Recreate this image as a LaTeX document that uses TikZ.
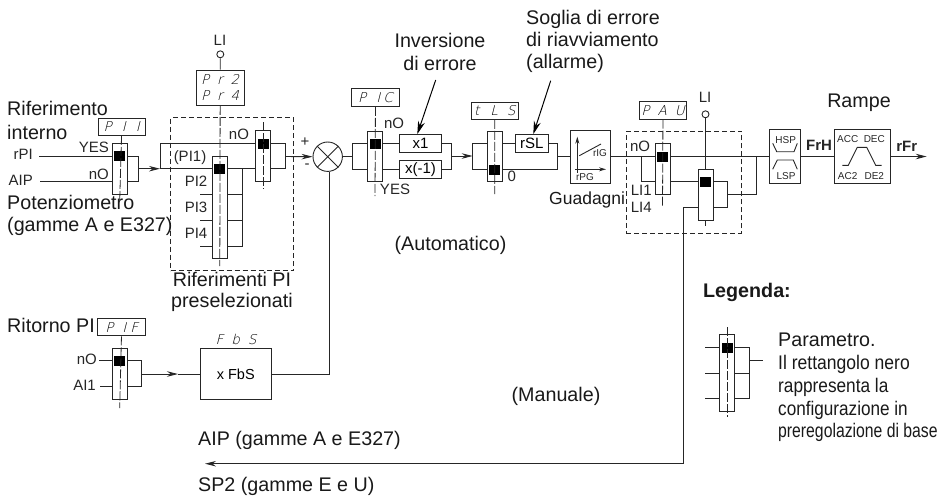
\documentclass[tikz,border=0pt]{standalone}
\usepackage{fontspec}
\setmainfont{Liberation Sans}
\newfontfamily\segfont[FakeSlant=0.25]{DejaVu Sans ExtraLight}
\usetikzlibrary{arrows.meta,calc}
\definecolor{ink}{gray}{0.15}
\newcommand{\fs}[1]{\fontsize{#1}{#1}\selectfont}
\newcommand{\Sel}[5]{%
  \node[sel,minimum height={(#4)-(#3)}] (#1) at (#2,{((#3)+(#4))/2}) {};
  \node[blk] (#1k) at (#2,#5) {};
  \coordinate (#1in) at (#2,#3);}
\tikzset{
  wire/.style={draw=ink,line width=0.9pt},
  ctr/.style={draw=ink,line width=0.8pt,dash pattern=on 9pt off 2pt},
  sel/.style={draw=ink,line width=0.9pt,minimum width=15pt,inner sep=0pt,rectangle},
  blk/.style={fill=black,draw=none,minimum width=11pt,minimum height=10pt,inner sep=0pt},
  box/.style={draw=ink,line width=0.9pt,inner sep=0pt,rectangle,align=center},
  seg/.style={font=\fs{13.5}\segfont,text=black},
  param/.style={box,seg,minimum width=47.6pt,minimum height=17.4pt},
  zone/.style={draw=ink,line width=0.8pt,dash pattern=on 5pt off 3pt},
  lab/.style={inner sep=0pt,text=ink,font=\fs{15},text height=0.72em,text depth=0pt},
  big/.style={inner sep=0pt,text=black!90,font=\fs{19.7},text height=0.72em,text depth=0pt},
  tiny/.style={inner sep=0pt,text=ink,font=\fs{10},text height=0.72em,text depth=0pt},
  bold/.style={inner sep=0pt,text=ink,font=\fs{15}\bfseries,text height=0.72em,text depth=0pt},
  tip/.style={-{Stealth[length=11pt,width=5.5pt]}},
  bigtip/.style={-{Stealth[length=13pt,width=7pt]}},
  pin/.style={circle,draw=ink,line width=0.9pt,minimum size=7pt,inner sep=0pt},
}
\begin{document}
\begin{tikzpicture}[x=1pt,y=-1pt]
\useasboundingbox (0,0) rectangle (939,496);

% dashed zones
\node[zone,rectangle,inner sep=0pt,minimum width=123pt,minimum height=153pt] (zone1) at (232.2,194.2) {};
\node[zone,rectangle,inner sep=0pt,minimum width=115pt,minimum height=102.3pt] (zone2) at (683.8,182.2) {};

% ---------- first selector
\node[param] (pii) at (121.8,126.8) {P\hspace{10pt}I\hspace{10pt}I};
\Sel{s1}{119.7}{143.3}{194}{156}
\coordinate (s1end) at (119.7,201);
\draw[ctr] (pii) -- (s1end);
\node[lab,anchor=east] (trpi) at (33,156) {rPI};
\node[lab,anchor=east] (taip) at (33,182) {AIP};
\coordinate (rpi) at (39,156);
\coordinate (aip) at (40,181.7);
\draw[wire] (rpi) -- (rpi -| s1.west);
\draw[wire] (aip) -- (aip -| s1.west);
\coordinate (c1a) at (138,156);
\coordinate (c1b) at (138,181.7);
\coordinate (c1m) at (138,168.7);
\draw[wire] (c1a -| s1.east) -- (c1a) -- (c1b) -- (c1b -| s1.east);
\coordinate (a1t) at (160,168.7);
\coordinate (j1) at (160.7,168.7);
\draw[wire,tip] (c1m) -- (a1t);
\node[lab,anchor=south east,font=\fs{15}] (tyes1) at (109,153) {YES};
\node[lab,anchor=south east] (tno1) at (109,179.5) {nO};

% ---------- PI selector
\node[box,seg,minimum width=47.7pt,minimum height=35.3pt] (pr) at (220.2,87.7) {P\hspace{8pt}r\hspace{8pt}2\\[2pt]P\hspace{8pt}r\hspace{8pt}4};
\node[pin] (li1) at (220.3,54.3) {};
\node[lab,anchor=south] (tli1) at (220,46) {LI};
\Sel{s2}{219.8}{156}{258.3}{168.7}
\coordinate (s2end) at (219.8,266);
\draw[wire] (li1) -- (pr);
\draw[ctr] (pr) -- (s2end);
\coordinate (pi2) at (200,194.3);
\coordinate (pi3) at (200,220.3);
\coordinate (pi4) at (200,246.3);
\draw[wire] (pi2) -- (pi2 -| s2.west);
\draw[wire] (pi3) -- (pi3 -| s2.west);
\draw[wire] (pi4) -- (pi4 -| s2.west);
\coordinate (b2) at (242.3,168.7);
\coordinate (b2e) at (242.3,246.3);
\draw[wire] (b2) -- (b2e) -- (s2.east |- b2e);
\draw[wire] (s2.east |- pi2) -- (pi2 -| b2);
\draw[wire] (s2.east |- pi3) -- (pi3 -| b2);
\draw[wire] (j1) -- (j1 -| s2.west);
\node[lab,anchor=center] (tpi1) at (190,158) {(PI1)};
\node[lab,anchor=east] (tpi2) at (207.5,183) {PI2};
\node[lab,anchor=east] (tpi3) at (207.5,209) {PI3};
\node[lab,anchor=east] (tpi4) at (207.5,235) {PI4};

% ---------- third selector
\Sel{s3}{263.2}{130.3}{181.3}{144}
\coordinate (s3a) at (263.2,122);
\coordinate (s3b) at (263.2,189);
\draw[ctr] (s3a) -- (s3b);
\coordinate (j1up) at (160.7,143.3);
\draw[wire] (j1) -- (j1up) -- (j1up -| s3.west);
\draw[wire] (j1 -| s2.east) -- (j1 -| s3.west);
\coordinate (c3a) at (285,143.3);
\coordinate (c3b) at (285,168.7);
\coordinate (c3m) at (285,156.5);
\draw[wire] (c3a -| s3.east) -- (c3a) -- (c3b) -- (c3b -| s3.east);
\node[lab,anchor=center] (tno3) at (239,136) {nO};
\node[lab,anchor=center] (tplus) at (305,143) {+};
\node[lab,anchor=center] (tminus) at (307,165) {-};

% ---------- summing point
\node[circle,draw=ink,line width=0.9pt,minimum size=29.4pt,inner sep=0pt] (sum) at (327.7,156.7) {};
\draw[wire] (sum.45) -- (sum.225);
\draw[wire] (sum.135) -- (sum.315);
\draw[wire,tip] (c3m) -- (sum.west);

% ---------- PIC
\node[param] (pic) at (375.5,97.6) {P\hspace{10pt}I\hspace{3pt}C};
\Sel{s5}{375}{131}{181.3}{144}
\coordinate (s5end) at (375,196);
\draw[ctr] (pic) -- (s5end);
\coordinate (in5) at (352.7,156.7);
\coordinate (in5a) at (352.7,143.3);
\coordinate (in5b) at (352.7,169.7);
\draw[wire] (sum) -- (in5);
\draw[wire] (s5.west |- in5a) -- (in5a) -- (in5b) -- (s5.west |- in5b);
\node[box,minimum width=42.4pt,minimum height=17.4pt,font=\fs{15}] (x1) at (420.5,143.3) {x1};
\node[box,minimum width=42.4pt,minimum height=17.4pt,font=\fs{15}] (xm) at (420.5,169.4) {x(-1)};
\draw[wire] (s5.east |- x1) -- (x1);
\draw[wire] (s5.east |- xm) -- (xm);
\coordinate (o5a) at (451,143.3);
\coordinate (o5b) at (451,169.4);
\coordinate (o5m) at (451,156);
\draw[wire] (x1) -- (o5a) -- (o5b) -- (xm);
\node[lab,anchor=center] (tno5) at (394,125) {nO};
\node[lab,anchor=center] (tyes5) at (395,191) {YES};
\node[big,anchor=center] (tinv1) at (440,44) {Inversione};
\node[big,anchor=center] (tinv2) at (440,67) {di errore};
\coordinate (ainv) at (435.7,80);
\draw[draw=black,line width=1pt,bigtip] (ainv) -- (x1.north -| 417.3,0);

% ---------- tLS
\node[param] (tls) at (494.8,110.7) {t\hspace{11pt}L\hspace{9pt}S};
\Sel{s6}{494.7}{131}{181.3}{170}
\coordinate (s6end) at (494.7,194);
\draw[ctr] (tls) -- (s6end);
\coordinate (in6) at (472.7,156);
\coordinate (in6a) at (472.7,143.3);
\coordinate (in6b) at (472.7,169.7);
\draw[wire,tip] (o5m) -- (in6);
\draw[wire] (s6.west |- in6a) -- (in6a) -- (in6b) -- (s6.west |- in6b);
\node[box,minimum width=33pt,minimum height=17.4pt,font=\fs{15}] (rsl) at (531.8,143.3) {rSL};
\draw[wire] (s6.east |- rsl) -- (rsl);
\coordinate (o6a) at (557.3,143.3);
\coordinate (o6b) at (557.3,169.7);
\coordinate (o6m) at (557.3,156.7);
\draw[wire] (rsl) -- (o6a) -- (o6b) -- (s6.east |- o6b);
\node[lab,anchor=center] (tzero) at (511.7,178) {0};
\node[big,anchor=west] (ts1) at (526,20.5) {Soglia di errore};
\node[big,anchor=west] (ts2) at (526,42.5) {di riavviamento};
\node[big,anchor=west] (ts3) at (526,65) {(allarme)};
\coordinate (arsl) at (550.7,80.7);
\draw[draw=black,line width=1pt,bigtip] (arsl) -- (rsl.north -| 533.3,0);

% ---------- gains
\node[box,minimum width=40pt,minimum height=53.7pt] (rpg) at (590.7,156.8) {};
\coordinate (g0) at (577.3,173);
\coordinate (g1) at (577.3,136.7);
\coordinate (g2) at (575,169.3);
\coordinate (g3) at (606,169.3);
\coordinate (g4) at (579.3,155.7);
\coordinate (g5) at (601,144);
\draw[wire,-{Stealth[length=7pt,width=4pt]}] (g0) -- (g1);
\draw[wire,-{Stealth[length=7pt,width=4pt]}] (g2) -- (g3);
\draw[wire] (g4) -- (g5);
\node[tiny,anchor=center] (trig) at (600,152.7) {rIG};
\node[tiny,anchor=center] (trpg) at (585,176.7) {rPG};
\draw[wire] (o6m) -- (o6m -| rpg.west);
\node[big,anchor=west,font=\fs{17.5}] (tgua) at (549,200.5) {Guadagni};

% ---------- PAU
\node[param] (pau) at (663,110.5) {P\hspace{8pt}A\hspace{8pt}U};
\Sel{s7}{662.5}{143.7}{194.3}{157}
\coordinate (s7end) at (662.5,207);
\draw[ctr] (pau) -- (s7end);
\coordinate (m0) at (rpg.east |- 0,156.7);
\coordinate (mb) at (641.7,156.7);
\coordinate (mc) at (641.7,181.7);
\draw[wire] (m0) -- (m0 -| s7.west);
\draw[wire] (mb) -- (mc) -- (mc -| s7.west);
\node[lab,anchor=center] (tno7) at (640,148) {nO};
\node[lab,anchor=west] (tl1) at (630.7,192) {LI1};
\node[lab,anchor=west] (tl4) at (630.7,209) {LI4};

\Sel{s8}{705.5}{169.3}{220.3}{182}
\node[pin] (li2) at (705.5,114.3) {};
\node[lab,anchor=center] (tli2) at (705,99) {LI};
\coordinate (s8end) at (705.5,226);
\draw[wire] (li2) -- (s8);
\draw[ctr] (s8) -- (s8end);
\draw[wire] (s7.east |- mc) -- (s8.west |- mc);
\coordinate (o8a) at (727.3,181.7);
\coordinate (o8b) at (727.3,207.7);
\coordinate (o8m) at (727.3,194.7);
\coordinate (o8n) at (756,194.7);
\coordinate (o8u) at (756,156.7);
\draw[wire] (s8.east |- o8a) -- (o8a) -- (o8b) -- (s8.east |- o8b);
\draw[wire] (o8m) -- (o8n) -- (o8u);

% ---------- limits & ramp
\node[box,minimum width=30.6pt,minimum height=54.4pt] (hsp) at (785,156.5) {};
\draw[wire] (s7.east |- o8u) -- (hsp.west |- o8u);
\coordinate (h1) at (772.7,143.3);
\coordinate (h2) at (776.7,151.7);
\coordinate (h3) at (794,151.7);
\coordinate (h4) at (797.3,143.3);
\coordinate (l1) at (772.7,169.3);
\coordinate (l2) at (777.3,160);
\coordinate (l3) at (793.3,160);
\coordinate (l4) at (797.3,169.3);
\draw[wire] (h1) -- (h2) -- (h3) -- (h4);
\draw[wire] (l1) -- (l2) -- (l3) -- (l4);
\node[tiny,anchor=center] (thsp) at (785.7,140) {HSP};
\node[tiny,anchor=center] (tlsp) at (786,175.7) {LSP};
\node[box,minimum width=55.3pt,minimum height=54.4pt] (ramp) at (862.3,156.5) {};
\draw[wire] (hsp) -- (ramp);
\node[bold,anchor=center] (tfrh) at (819,147.3) {FrH};
\coordinate (r1) at (842.3,165.3);
\coordinate (r2) at (848.3,165.3);
\coordinate (r3) at (857.3,147.3);
\coordinate (r4) at (866.7,147.3);
\coordinate (r5) at (875.7,165.3);
\coordinate (r6) at (881.7,165.3);
\draw[wire] (r1) -- (r2) -- (r3) -- (r4) -- (r5) -- (r6);
\node[tiny,anchor=center] (tacc) at (847.7,139) {ACC};
\node[tiny,anchor=center] (tdec) at (874.3,139) {DEC};
\node[tiny,anchor=center] (tac2) at (847.7,175.7) {AC2};
\node[tiny,anchor=center] (tde2) at (874.3,175.7) {DE2};
\coordinate (out) at (926.7,156.5);
\draw[wire,tip] (ramp) -- (out);
\node[bold,anchor=center] (trfr) at (906.7,148) {rFr};
\node[big,anchor=center] (trampe) at (859,104) {Rampe};

% ---------- feedback
\node[param] (pif) at (121.7,327.2) {P\hspace{9pt}I\hspace{4pt}F};
\Sel{s4}{119.7}{348}{399}{361}
\coordinate (s4end) at (119.7,408);
\draw[ctr] (pif) -- (s4end);
\node[lab,anchor=east] (tno4) at (97,361) {nO};
\node[lab,anchor=east] (tai1) at (96,387) {AI1};
\coordinate (no4) at (99.3,360.7);
\coordinate (ai1) at (100.3,386.7);
\draw[wire] (no4) -- (no4 -| s4.west);
\draw[wire] (ai1) -- (ai1 -| s4.west);
\coordinate (c4a) at (141.7,360.7);
\coordinate (c4b) at (141.7,386.7);
\coordinate (c4m) at (141.7,374);
\coordinate (a4) at (178,374);
\draw[wire] (s4.east |- c4a) -- (c4a) -- (c4b) -- (s4.east |- c4b);
\node[box,minimum width=71.7pt,minimum height=51.4pt,font=\fs{14.5}] (fbs) at (235.8,374) {x FbS};
\draw[wire,tip] (c4m) -- (a4);
\draw[wire] (a4) -- (fbs);
\node[inner sep=0pt,seg] (tfbs) at (236,339) {F\hspace{8pt}b\hspace{8pt}S};
\coordinate (fb) at (329.3,374);
\draw[wire] (fbs) -- (fb) -- (sum.south -| fb);

% ---------- manual return line
\coordinate (m1) at (683.7,207.7);
\coordinate (m2) at (683.7,463.7);
\coordinate (m3) at (205,463.7);
\draw[wire] (s8.west |- m1) -- (m1) -- (m2);
\draw[wire,tip] (m2) -- (m3);

% ---------- big labels
\node[big,anchor=west] (tr1) at (7,112) {Riferimento};
\node[big,anchor=west] (tr2) at (7,136) {interno};
\node[big,anchor=west] (tp1) at (7,206) {Potenziometro};
\node[big,anchor=west] (tp2) at (7,228) {(gamme A e E327)};
\node[big,anchor=center] (trp1) at (232,283) {Riferimenti PI};
\node[big,anchor=center] (trp2) at (232,304) {preselezionati};
\node[big,anchor=west] (trit) at (7,329) {Ritorno PI};
\node[big,anchor=center] (tauto) at (450.5,247) {(Automatico)};
\node[big,anchor=center] (tman) at (556,398) {(Manuale)};
\node[big,anchor=west] (taipg) at (198,441.5) {AIP (gamme A e E327)};
\node[big,anchor=west] (tsp2) at (198,488) {SP2 (gamme E e U)};

% ---------- legend
\node[big,anchor=west,font=\fs{19.7}\bfseries] (tleg) at (703,294) {Legenda:};
\Sel{s9}{727.2}{334}{411.3}{347.7}
\coordinate (s9a) at (727.2,327.3);
\coordinate (s9b) at (727.2,417.3);
\draw[ctr] (s9a) -- (s9b);
\coordinate (i1) at (705,347.3);
\coordinate (i2) at (705,373);
\coordinate (i3) at (705,398.7);
\draw[wire] (i1) -- (i1 -| s9.west);
\draw[wire] (i2) -- (i2 -| s9.west);
\draw[wire] (i3) -- (i3 -| s9.west);
\coordinate (ob1) at (749.3,347.3);
\coordinate (ob3) at (749.3,398.7);
\coordinate (ob2) at (749.3,373);
\coordinate (om) at (749.3,360);
\coordinate (oe) at (763.3,360);
\draw[wire] (s9.east |- ob1) -- (ob1) -- (ob3) -- (s9.east |- ob3);
\draw[wire] (s9.east |- ob2) -- (ob2);
\draw[wire] (om) -- (oe);
\node[big,anchor=west] (tl1a) at (778,343) {Parametro.};
\node[big,anchor=west] (tl2a) at (778,366) {\scalebox{0.89}[1]{Il rettangolo nero}};
\node[big,anchor=west] (tl3a) at (778,389) {\scalebox{0.875}[1]{rappresenta la}};
\node[big,anchor=west] (tl4a) at (778,411.5) {\scalebox{0.87}[1]{configurazione in}};
\node[big,anchor=west] (tl5a) at (778,434) {\scalebox{0.8}[1]{preregolazione di base}};
\end{tikzpicture}
\end{document}
